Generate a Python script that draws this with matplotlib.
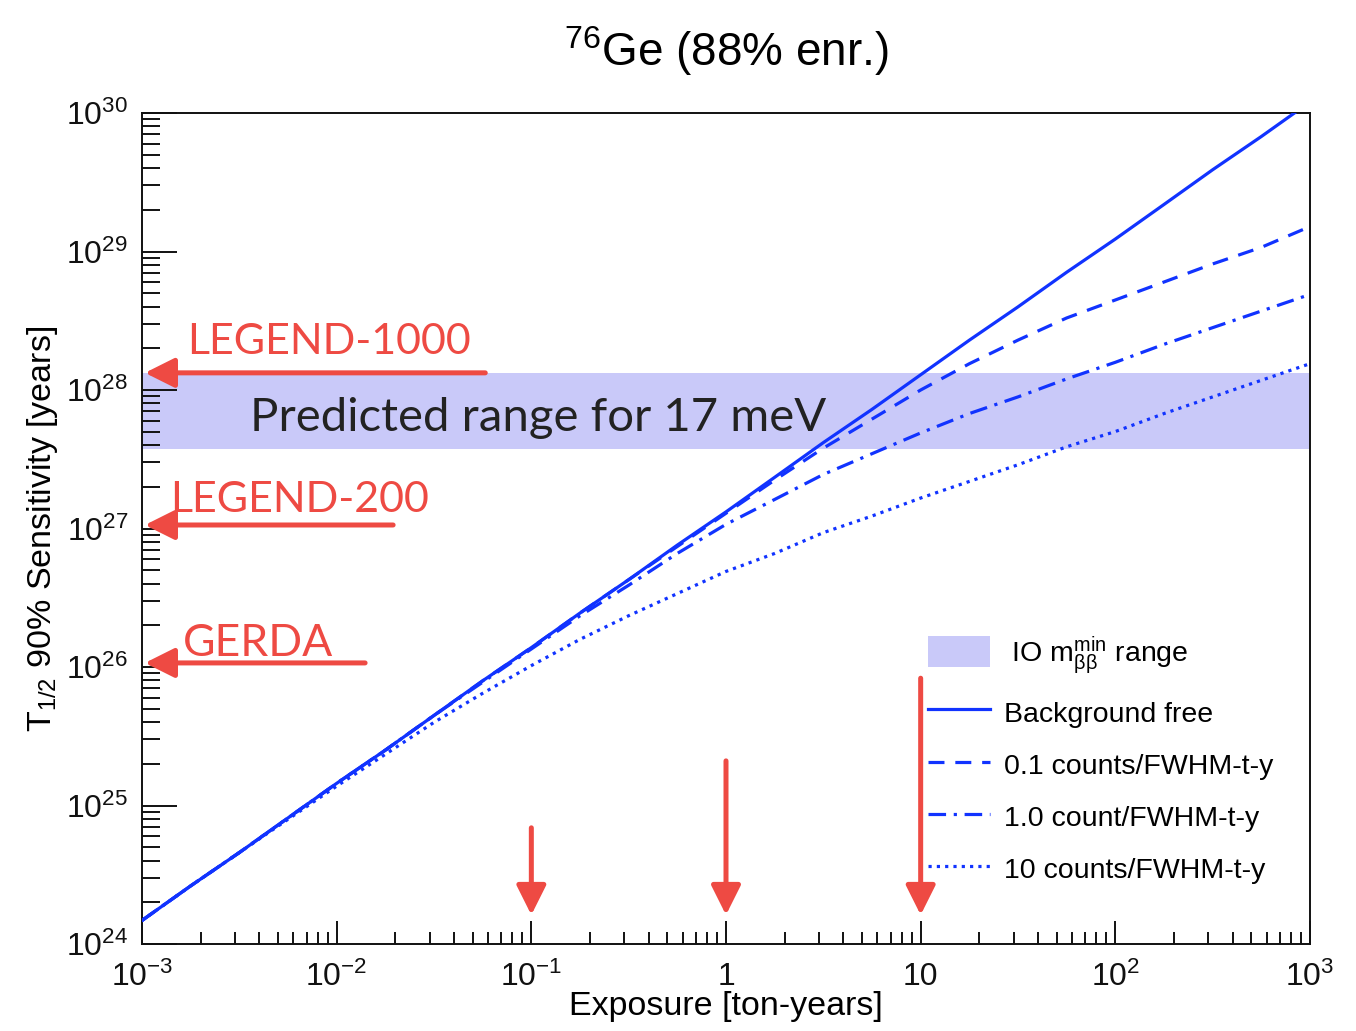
import math
import numpy as np
import matplotlib
matplotlib.use("Agg")
import matplotlib.pyplot as plt
import matplotlib.ticker as mticker
from matplotlib.patches import Patch
from matplotlib.lines import Line2D

plt.rcParams['font.family'] = ['Liberation Sans', 'DejaVu Sans']
plt.rcParams['mathtext.fontset'] = 'custom'
plt.rcParams['mathtext.rm'] = 'Liberation Sans'
plt.rcParams['mathtext.it'] = 'Liberation Sans:italic'
plt.rcParams['mathtext.bf'] = 'Liberation Sans:bold'

# Exposure grid [ton-years], quarter-decade steps
exposure = [0.001, 0.00178, 0.00316, 0.00562, 0.01, 0.0178, 0.0316, 0.0562,
            0.1, 0.178, 0.316, 0.562, 1, 1.78, 3.16, 5.62,
            10, 17.8, 31.6, 56.2, 100, 178, 316, 562, 1000]

# log10 of the 90% C.L. half-life sensitivity [years] for each background level
log_sens_bkg_free = [24.17, 24.42, 24.66, 24.91, 25.16, 25.40, 25.65, 25.90,
                     26.14, 26.39, 26.63, 26.88, 27.12, 27.37, 27.62, 27.86,
                     28.11, 28.36, 28.60, 28.85, 29.09, 29.34, 29.59, 29.83, 30.08]
log_sens_bkg_0p1 = [24.17, 24.42, 24.66, 24.91, 25.16, 25.40, 25.65, 25.90,
                    26.14, 26.39, 26.63, 26.87, 27.11, 27.35, 27.58, 27.79,
                    28.00, 28.19, 28.36, 28.52, 28.65, 28.78, 28.91, 29.03, 29.18]
log_sens_bkg_1 = [24.17, 24.42, 24.66, 24.91, 25.16, 25.40, 25.65, 25.89,
                  26.13, 26.37, 26.59, 26.82, 27.03, 27.21, 27.39, 27.54,
                  27.69, 27.83, 27.95, 28.08, 28.20, 28.33, 28.45, 28.57, 28.69]
log_sens_bkg_10 = [24.17, 24.42, 24.66, 24.90, 25.14, 25.37, 25.60, 25.81,
                   26.01, 26.20, 26.37, 26.53, 26.69, 26.82, 26.97, 27.09,
                   27.22, 27.34, 27.46, 27.59, 27.70, 27.83, 27.95, 28.07, 28.19]

# Inverted-ordering m_bb^min half-life range [years]
io_range = [3.75e27, 1.33e28]

# Experiments: half-life goal [years] and exposure [ton-years]
experiments = ['GERDA', 'LEGEND-200', 'LEGEND-1000']
exp_goal = [1.07e26, 1.06e27, 1.33e28]
exp_exposure = [0.1, 1, 10]

legend_labels = [r' IO m$_{\mathrm{ββ}}^{\mathrm{min}}$ range', 'Background free',
                 '0.1 counts/FWHM-t-y', '1.0 count/FWHM-t-y', '10 counts/FWHM-t-y']

blue = '#1133ff'
band_color = '#c9c9f9'
red = '#ee4a43'
W, H = 1356, 1031

fig = plt.figure(figsize=(W / 100, H / 100), dpi=100)
ax = fig.add_axes([142 / W, 1 - 944 / H, (1310 - 142) / W, (944 - 113) / H])
ax.set_xscale('log')
ax.set_yscale('log')
ax.set_xlim(1e-3, 1e3)
ax.set_ylim(1e24, 1e30)

ax.axhspan(io_range[0], io_range[1], color=band_color, lw=0, zorder=1)

lw = 2.3
styles = ['-', (0, (5.0, 3.4)), (0, (5.5, 2.4, 1.0, 2.4)), (0, (1.0, 1.6))]
series = [log_sens_bkg_free, log_sens_bkg_0p1, log_sens_bkg_1, log_sens_bkg_10]
for vals, ls in zip(series, styles):
    ax.plot(exposure, np.power(10.0, vals), color=blue, lw=lw, ls=ls, zorder=3)

# Axes styling
for sp in ax.spines.values():
    sp.set_linewidth(1.4)
    sp.set_color('#111111')

ax.xaxis.set_major_locator(mticker.LogLocator(base=10, numticks=20))
ax.xaxis.set_minor_locator(mticker.LogLocator(base=10, subs=range(2, 10), numticks=100))
ax.yaxis.set_major_locator(mticker.LogLocator(base=10, numticks=20))
ax.yaxis.set_minor_locator(mticker.LogLocator(base=10, subs=range(2, 10), numticks=100))


def xfmt(v, pos):
    e = int(round(math.log10(v)))
    if e == 0:
        return '1'
    if e == 1:
        return '10'
    return r'$10^{%d}$' % e


def yfmt(v, pos):
    return r'$10^{%d}$' % int(round(math.log10(v)))


ax.xaxis.set_major_formatter(mticker.FuncFormatter(xfmt))
ax.yaxis.set_major_formatter(mticker.FuncFormatter(yfmt))
ax.xaxis.set_minor_formatter(mticker.NullFormatter())
ax.yaxis.set_minor_formatter(mticker.NullFormatter())

ax.tick_params(axis='both', which='both', direction='in', top=False, right=False,
               colors='#111111', width=1.4, labelsize=23)
ax.tick_params(axis='x', which='major', length=16.5, pad=13)
ax.tick_params(axis='x', which='minor', length=8.6)
ax.tick_params(axis='y', which='major', length=25, pad=10)
ax.tick_params(axis='y', which='minor', length=13)

ax.set_xlabel('Exposure [ton-years]', fontsize=24.5, labelpad=-2)
ax.set_ylabel(r'T$_{1/2}$ 90% Sensitivity [years]', fontsize=24.5, labelpad=4)
ax.set_title(r'$^{76}$Ge (88% enr.)', fontsize=33, pad=34)

# Legend
handles = [Patch(facecolor=band_color, edgecolor='none')]
handles += [Line2D([], [], color=blue, lw=lw, ls=ls) for ls in styles]
ax.legend(handles, legend_labels, loc='upper left',
          bbox_to_anchor=(928 / W, 1 - 634 / H), bbox_transform=fig.transFigure,
          frameon=False, fontsize=20.5, handlelength=2.18, handleheight=1.3,
          handletextpad=0.49, labelspacing=0.74, borderpad=0, borderaxespad=0)

# Experiment goals (horizontal arrows) and exposures (vertical arrows)
label_pos = {'GERDA': (1.62e-3, 1.2e26), 'LEGEND-200': (1.39e-3, 1.32e27),
             'LEGEND-1000': (1.70e-3, 1.82e28)}
label_size = {'GERDA': 32, 'LEGEND-200': 31, 'LEGEND-1000': 31}
arrow_tail_x = {'GERDA': 0.014, 'LEGEND-200': 0.0195, 'LEGEND-1000': 0.058}
arrow_tail_y = {'GERDA': 6.9e24, 'LEGEND-200': 2.1e25, 'LEGEND-1000': 8.3e25}
aprops = dict(arrowstyle='-|>,head_length=1.0,head_width=0.5', lw=3.6, color=red,
              shrinkA=0, shrinkB=0, mutation_scale=18)
for name, goal, expo in zip(experiments, exp_goal, exp_exposure):
    ax.annotate('', xy=(1.035e-3, goal), xytext=(arrow_tail_x[name], goal),
                arrowprops=aprops, zorder=5)
    ax.text(*label_pos[name], name, color=red, fontsize=label_size[name],
            family=['Lato', 'DejaVu Sans'], ha='left', va='baseline', zorder=5)
    ax.annotate('', xy=(expo, 1.62e24), xytext=(expo, arrow_tail_y[name]),
                arrowprops=aprops, zorder=5)

ax.text(3.59e-3, 5.1e27, 'Predicted range for 17 meV', color='#222222', fontsize=34,
        family=['Lato', 'DejaVu Sans'], ha='left', va='baseline', zorder=4)

fig.savefig('out.png', dpi=100)
